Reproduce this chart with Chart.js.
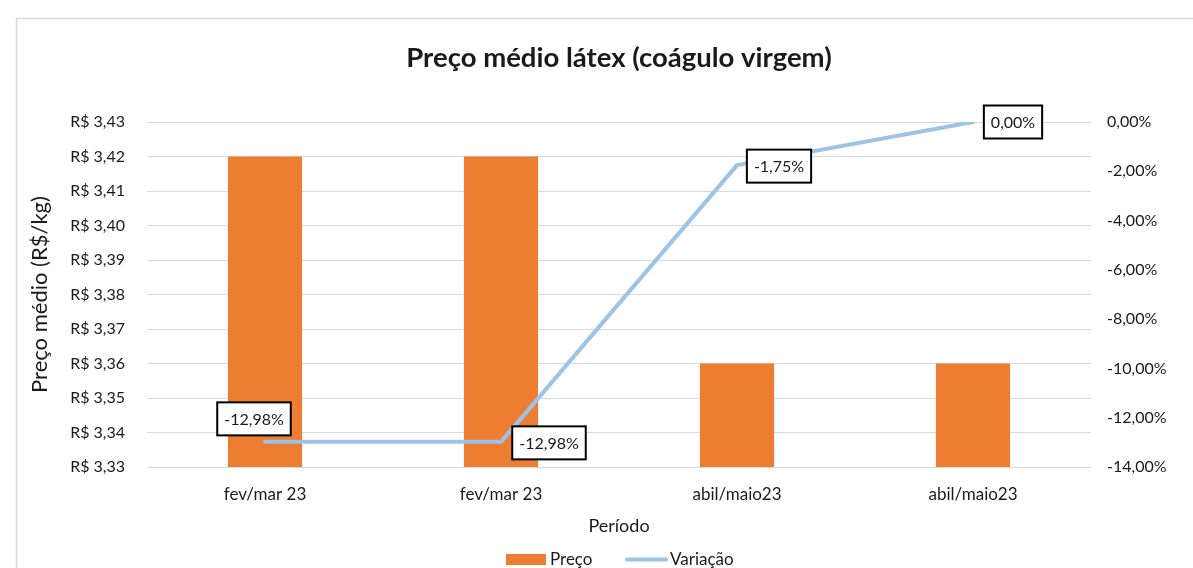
<!DOCTYPE html>
<html>
<head>
<meta charset="utf-8">
<script src="https://cdn.jsdelivr.net/npm/chart.js@4.4.1/dist/chart.umd.min.js"></script>
<style>
  html, body { margin: 0; padding: 0; background: #ffffff; overflow: hidden; }
  canvas { display: block; }
</style>
</head>
<body>
<canvas id="c" width="1193" height="568"></canvas>
<script>
// ---- data ----
const categories = ['fev/mar 23', 'fev/mar 23', 'abil/maio23', 'abil/maio23'];
const precoValues = [3.42, 3.42, 3.36, 3.36];
const variacaoValues = [-12.98, -12.98, -1.75, 0.00];
const seriesNames = ['Preço', 'Variação'];
const chartTitle = 'Preço médio látex (coágulo virgem)';
const xAxisTitle = 'Período';
const yAxisTitle = 'Preço médio (R$/kg)';

// ---- style ----
const FONT = 'Lato, Carlito, Calibri, "Open Sans", sans-serif';
const TEXT = '#1a1a1a';
const ORANGE = '#ED7D31';
const BLUE = '#9DC3E6';
const GRID = '#d9d9d9';

const fmtBRL = v => 'R$ ' + v.toFixed(2).replace('.', ',');
const fmtPct = v => (Math.abs(v) < 1e-9 ? 0 : v).toFixed(2).replace('.', ',') + '%';

const customPlugin = {
  id: 'custom',
  beforeDraw(chart) {
    const ctx = chart.ctx;
    ctx.save();
    ctx.fillStyle = '#ffffff';
    ctx.fillRect(0, 0, chart.width, chart.height);
    ctx.strokeStyle = '#d9d9d9';
    ctx.lineWidth = 1.5;
    ctx.strokeRect(16.5, 18.5, chart.width + 20, chart.height + 20);
    ctx.restore();
  },
  afterDatasetsDraw(chart, args, opts) {
    const ctx = chart.ctx;
    const meta = chart.getDatasetMeta(1);
    const ds = chart.data.datasets[1];
    ctx.save();
    ctx.font = '16px ' + FONT;
    ctx.textAlign = 'center';
    ctx.textBaseline = 'middle';
    meta.data.forEach((pt, i) => {
      const off = opts.offsets[i] || [0, 0];
      const txt = fmtPct(ds.data[i]);
      const tw = ctx.measureText(txt).width;
      const w = tw + 14, h = 33;
      const cx = pt.x + off[0], cy = pt.y + off[1];
      ctx.fillStyle = '#ffffff';
      ctx.fillRect(cx - w / 2, cy - h / 2, w, h);
      ctx.strokeStyle = '#000000';
      ctx.lineWidth = 2;
      ctx.strokeRect(cx - w / 2, cy - h / 2, w, h);
      ctx.fillStyle = TEXT;
      ctx.fillText(txt, cx, cy + 1);
    });
    ctx.restore();
  },
  afterDraw(chart) {
    // legend
    const ctx = chart.ctx;
    ctx.save();
    ctx.font = '17px ' + FONT;
    ctx.textBaseline = 'middle';
    ctx.textAlign = 'left';
    ctx.fillStyle = ORANGE;
    ctx.fillRect(506, 554, 40, 11);
    ctx.fillStyle = TEXT;
    ctx.fillText(seriesNames[0], 550, 560);
    ctx.strokeStyle = BLUE;
    ctx.lineWidth = 4;
    ctx.lineCap = 'round';
    ctx.beginPath();
    ctx.moveTo(627, 559.5);
    ctx.lineTo(666, 559.5);
    ctx.stroke();
    ctx.fillStyle = TEXT;
    ctx.fillText(seriesNames[1], 670, 560);
    ctx.restore();
  }
};

new Chart(document.getElementById('c'), {
  type: 'bar',
  data: {
    labels: categories,
    datasets: [
      {
        type: 'bar',
        label: seriesNames[0],
        data: precoValues,
        yAxisID: 'y',
        backgroundColor: ORANGE,
        borderWidth: 0,
        categoryPercentage: 1.0,
        barPercentage: 0.314,
        order: 1
      },
      {
        type: 'line',
        label: seriesNames[1],
        data: variacaoValues,
        yAxisID: 'y1',
        borderColor: BLUE,
        backgroundColor: BLUE,
        borderWidth: 4,
        borderCapStyle: 'round',
        borderJoinStyle: 'round',
        pointRadius: 0,
        pointHoverRadius: 0,
        tension: 0,
        order: 0
      }
    ]
  },
  options: {
    responsive: false,
    devicePixelRatio: 1,
    animation: false,
    events: [],
    layout: { padding: { left: 0, right: 0, top: 0, bottom: 0 } },
    plugins: {
      legend: { display: false },
      tooltip: { enabled: false },
      title: {
        display: true,
        fullSize: false,
        text: chartTitle,
        color: TEXT,
        font: { family: FONT, size: 27.5, weight: 'bold', lineHeight: 1.2 },
        padding: { top: 41.5, bottom: 47.5 }
      },
      custom: {
        offsets: [[-11, -23], [48, 1], [42, 1], [40, 0]]
      }
    },
    scales: {
      x: {
        type: 'category',
        offset: true,
        grid: { display: false, drawTicks: false },
        border: { display: false },
        ticks: { color: TEXT, font: { family: FONT, size: 17 }, padding: 17, maxRotation: 0, autoSkip: false },
        title: {
          display: true, text: xAxisTitle, color: TEXT,
          font: { family: FONT, size: 18, lineHeight: 1.2 },
          padding: { top: 0, bottom: 31 }
        },
        afterFit(scale) { scale.height = 101; }
      },
      y: {
        type: 'linear',
        position: 'left',
        min: 3.33,
        max: 3.43,
        grid: { color: GRID, lineWidth: 1, drawTicks: false },
        border: { display: false },
        ticks: {
          stepSize: 0.01, color: TEXT, font: { family: FONT, size: 16 }, padding: 22,
          callback: v => fmtBRL(v)
        },
        title: {
          display: true, text: yAxisTitle, color: TEXT,
          font: { family: FONT, size: 22, lineHeight: 1.2 },
          padding: { top: 27, bottom: 0 }
        },
        afterFit(scale) { scale.width = 147; }
      },
      y1: {
        type: 'linear',
        position: 'right',
        min: -14,
        max: 0,
        grid: { display: false, drawTicks: false },
        border: { display: false },
        ticks: {
          stepSize: 2, color: TEXT, font: { family: FONT, size: 16 }, padding: 16,
          callback: v => fmtPct(v)
        },
        afterFit(scale) { scale.width = 102; }
      }
    }
  },
  plugins: [customPlugin]
});
</script>
</body>
</html>
